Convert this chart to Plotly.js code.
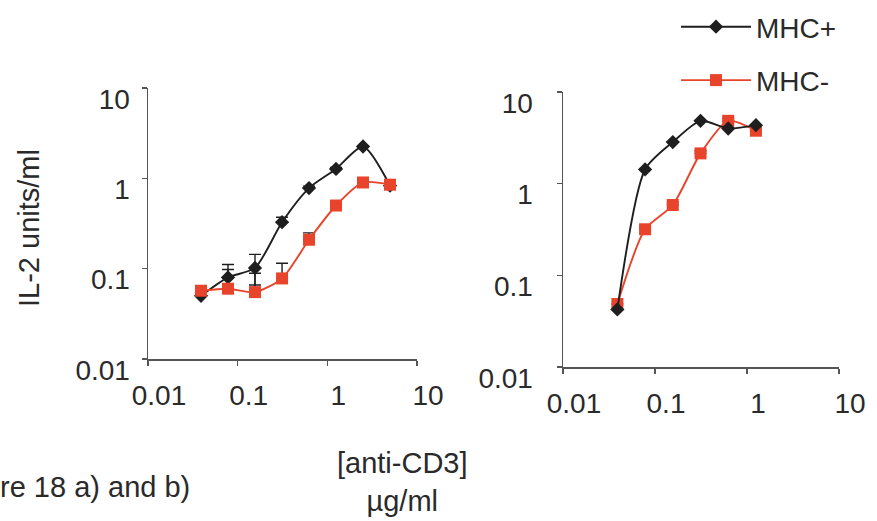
<!DOCTYPE html>
<html>
<head>
<meta charset="utf-8">
<script src="https://cdn.plot.ly/plotly-3.0.1.min.js"></script>
<style>html,body{margin:0;padding:0;background:#fff;}#chart{width:877px;height:521px;}</style>
</head>
<body>
<div id="chart"></div>
<script>
// ---- data ----
const doseA = [0.039, 0.078, 0.156, 0.3125, 0.625, 1.25, 2.5, 5];
const doseB = [0.039, 0.078, 0.156, 0.3125, 0.625, 1.25];

const aMHCplus = [0.050, 0.080, 0.102, 0.327, 0.78, 1.27, 2.25, 0.83];
const aMHCplusErrUp = [0, 0.031, 0.042, 0.044, 0.04, 0.05, 0, 0];
const aMHCplusErrDown = [0, 0, 0.036, 0, 0, 0, 0, 0];

const aMHCminus = [0.057, 0.060, 0.055, 0.078, 0.209, 0.50, 0.90, 0.85];
const aMHCminusErrUp = [0, 0.038, 0.034, 0.037, 0.040, 0.03, 0, 0];
const aMHCminusErrDown = [0, 0, 0, 0, 0, 0, 0, 0];

const bMHCplus = [0.0425, 1.43, 2.84, 4.85, 4.0, 4.35];
const bMHCminus = [0.0487, 0.318, 0.585, 2.14, 4.85, 3.78];
const bMHCminusErrUp = [0, 0.02, 0.04, 0.15, 0.3, 0.3];

const seriesNames = ['MHC+', 'MHC-'];
const tickVals = [0.01, 0.1, 1, 10];
const tickText = ['0.01', '0.1', '1', '10'];
const yTitle = 'IL-2 units/ml';
const xTitle = '[anti-CD3]<br>µg/ml';
const caption = 're 18 a) and b)';

// ---- styling ----
const BLACK = '#1e1e1e';
const RED = '#e8442c';
const AXIS = '#555555';
const TXT = '#2a2a2a';
const FONT = 'Liberation Sans, Arial, sans-serif';

function blackTrace(x, y, up, down, xa, ya, show) {
  return {
    x: x, y: y, xaxis: xa, yaxis: ya, type: 'scatter', mode: 'lines+markers',
    name: seriesNames[0], legendgroup: 'plus', showlegend: show,
    line: {color: BLACK, width: 1.9, shape: 'spline', smoothing: 0.7},
    marker: {symbol: 'diamond', size: 11, color: BLACK},
    error_y: up ? {type: 'data', symmetric: false, array: up, arrayminus: down,
      color: BLACK, thickness: 1.4, width: 6} : undefined
  };
}
function redTrace(x, y, up, down, xa, ya, show) {
  return {
    x: x, y: y, xaxis: xa, yaxis: ya, type: 'scatter', mode: 'lines+markers',
    name: seriesNames[1], legendgroup: 'minus', showlegend: show,
    line: {color: RED, width: 1.9, shape: 'spline', smoothing: 0.7},
    marker: {symbol: 'square', size: 12, color: RED},
    error_y: up ? {type: 'data', symmetric: false, array: up, arrayminus: down,
      color: BLACK, thickness: 1.4, width: 6} : undefined
  };
}

const zeros6 = [0, 0, 0, 0, 0, 0];
const data = [
  blackTrace(doseA, aMHCplus, aMHCplusErrUp, aMHCplusErrDown, 'x', 'y', true),
  redTrace(doseA, aMHCminus, aMHCminusErrUp, aMHCminusErrDown, 'x', 'y', true),
  redTrace(doseB, bMHCminus, bMHCminusErrUp, zeros6, 'x2', 'y2', false),
  blackTrace(doseB, bMHCplus, null, null, 'x2', 'y2', false)
];

function xAxis(domain, anchor) {
  return {
    type: 'log', range: [-2, 1], domain: domain, anchor: anchor,
    showgrid: false, zeroline: false, showline: true, linecolor: AXIS, linewidth: 1.5,
    ticks: 'outside', ticklen: 5, tickcolor: AXIS, tickwidth: 1.2,
    tickvals: tickVals, ticktext: tickText,
    tickfont: {family: FONT, size: 28, color: TXT},
    ticklabelshift: 11, ticklabelstandoff: 6
  };
}
function yAxis(domain, anchor, standoff) {
  return {
    type: 'log', range: [-2, 1], domain: domain, anchor: anchor,
    showgrid: false, zeroline: false, showline: true, linecolor: AXIS, linewidth: 1.5,
    ticks: 'outside', ticklen: 5, tickcolor: AXIS, tickwidth: 1.2,
    tickvals: tickVals, ticktext: tickText,
    tickfont: {family: FONT, size: 28, color: TXT},
    ticklabelshift: 11, ticklabelstandoff: standoff
  };
}

const W = 877, H = 521;
const layout = {
  width: W, height: H,
  margin: {l: 0, r: 0, t: 0, b: 0},
  paper_bgcolor: '#ffffff', plot_bgcolor: 'rgba(0,0,0,0)',
  font: {family: FONT, color: TXT},
  showlegend: true,
  legend: {
    x: 676 / W, y: 1 - 2 / H, xanchor: 'left', yanchor: 'top',
    font: {family: FONT, size: 28, color: TXT},
    bgcolor: 'rgba(0,0,0,0)', traceorder: 'grouped', tracegroupgap: 14,
    itemwidth: 70
  },
  xaxis: xAxis([148 / W, 417 / W], 'y'),
  yaxis: yAxis([(H - 359) / H, (H - 88) / H], 'x', 6),
  xaxis2: xAxis([563 / W, 839 / W], 'y2'),
  yaxis2: yAxis([(H - 367) / H, (H - 92) / H], 'x2', 18),
  annotations: [
    {text: yTitle, xref: 'paper', yref: 'paper', x: 29 / W, y: (H - 228) / H,
     xanchor: 'center', yanchor: 'middle', textangle: -90, showarrow: false,
     font: {family: FONT, size: 29, color: TXT}},
    {text: xTitle, xref: 'paper', yref: 'paper', x: 402 / W, y: (H - 482) / H,
     xanchor: 'center', yanchor: 'middle', showarrow: false,
     font: {family: FONT, size: 29, color: TXT}},
    {text: caption, xref: 'paper', yref: 'paper', x: 0, y: (H - 487) / H,
     xanchor: 'left', yanchor: 'middle', showarrow: false, xshift: -2,
     font: {family: FONT, size: 29, color: TXT}}
  ]
};

Plotly.newPlot('chart', data, layout, {displayModeBar: false, staticPlot: true});
</script>
</body>
</html>
